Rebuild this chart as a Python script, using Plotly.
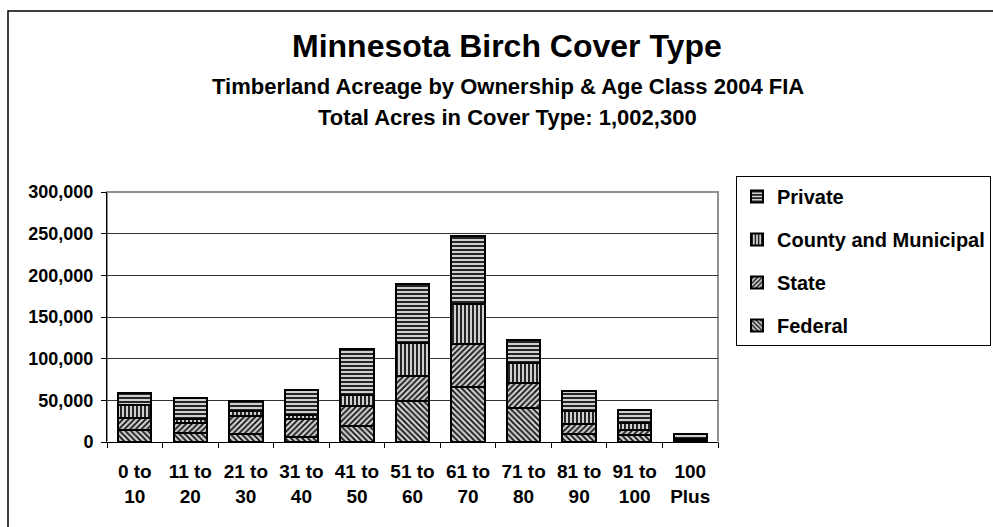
import plotly.graph_objects as go

categories = ["0 to<br>10", "11 to<br>20", "21 to<br>30", "31 to<br>40", "41 to<br>50",
              "51 to<br>60", "61 to<br>70", "71 to<br>80", "81 to<br>90", "91 to<br>100",
              "100<br>Plus"]
federal = [14900, 11300, 10000, 6000, 18800, 49700, 66000, 40800, 9200, 8000, 1200]
state = [13500, 12000, 21700, 21200, 24400, 29100, 52100, 30000, 12400, 6900, 1000]
county = [16500, 4300, 5100, 5700, 13700, 40500, 47500, 24000, 15200, 7500, 1300]
private = [14000, 25700, 12000, 30000, 55200, 69900, 81600, 27600, 24000, 15600, 6500]

series = [("Federal", federal, "\\", 4), ("State", state, "/", 3),
          ("County and Municipal", county, "|", 2), ("Private", private, "-", 1)]

FONT = "Liberation Sans, Arial, sans-serif"
fig = go.Figure()
for name, vals, shape, rank in series:
    fig.add_trace(go.Bar(
        x=categories, y=vals, name=name, legendgroup=name, legendrank=rank,
        marker=dict(color="#c8c8c8",
                    line=dict(color="black", width=2),
                    pattern=dict(shape=shape, fgcolor="#111111", bgcolor="#d0d0d0",
                                 size=4, solidity=0.45, fillmode="replace")),
    ))

L, R, T, B = 107, 718, 192, 442
W, H = 993, 527
pw, ph = R - L, B - T

def px_x(x):
    return (x - L) / pw

def px_y(y):
    return (B - y) / ph

fig.update_layout(
    width=W, height=H,
    margin=dict(l=L, r=W - R, t=T, b=H - B, pad=0, autoexpand=False),
    paper_bgcolor="white", plot_bgcolor="white",
    barmode="stack", bargap=0.4,
    font=dict(family=FONT, size=18, color="black"),
    showlegend=True,
    legend=dict(x=px_x(736), y=px_y(176), xanchor="left", yanchor="top",
                bordercolor="black", borderwidth=1, bgcolor="white",
                traceorder="grouped", tracegroupgap=14,
                font=dict(family=FONT, size=20, color="black", weight="bold"),
                itemwidth=30),
    xaxis=dict(showline=True, linecolor="black", linewidth=1,
               ticks="outside", ticklen=5, tickcolor="black", tickson="boundaries",
               ticklabelstandoff=12,
               tickfont=dict(family=FONT, size=19, color="black", weight="bold"),
               showgrid=False),
    yaxis=dict(range=[0, 300000], dtick=50000, tickformat=",",
               showline=True, linecolor="black", linewidth=1,
               ticks="outside", ticklen=5, tickcolor="black", ticklabelstandoff=4,
               showgrid=True, gridcolor="#333333", gridwidth=1,
               tickfont=dict(family=FONT, size=18, color="black", weight="bold")),
    shapes=[
        dict(type="rect", xref="paper", yref="paper", x0=0, x1=1, y0=0, y1=1,
             line=dict(color="#909090", width=2), layer="below"),
        dict(type="rect", xref="paper", yref="paper",
             x0=px_x(8), x1=px_x(1100), y0=px_y(700), y1=px_y(11),
             line=dict(color="black", width=1.5), layer="below"),
    ],
    annotations=[
        dict(text="<b>Minnesota Birch Cover Type</b>", xref="paper", yref="paper",
             x=px_x(507), y=px_y(46), xanchor="center", yanchor="middle",
             showarrow=False, font=dict(family=FONT, size=32, color="black")),
        dict(text="<b>Timberland Acreage by Ownership & Age Class 2004 FIA</b>",
             xref="paper", yref="paper", x=px_x(508), y=px_y(86),
             xanchor="center", yanchor="middle", showarrow=False,
             font=dict(family=FONT, size=22, color="black")),
        dict(text="<b>Total Acres in Cover Type: 1,002,300</b>",
             xref="paper", yref="paper", x=px_x(507), y=px_y(118),
             xanchor="center", yanchor="middle", showarrow=False,
             font=dict(family=FONT, size=22, color="black")),
    ],
)

fig.write_html("out.html", config={"displayModeBar": False},
               post_script="document.body.style.margin='0px';document.body.style.overflow='hidden';")
